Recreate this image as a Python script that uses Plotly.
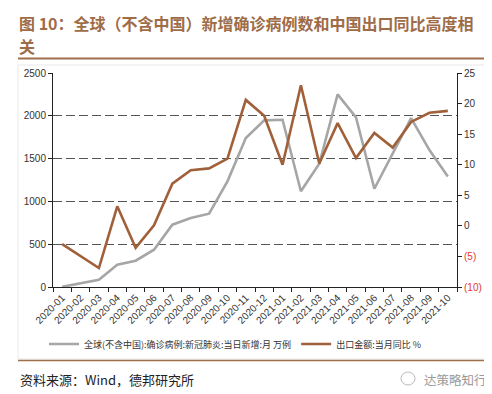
import plotly.graph_objects as go

months = ["2020-01", "2020-02", "2020-03", "2020-04", "2020-05", "2020-06", "2020-07",
          "2020-08", "2020-09", "2020-10", "2020-11", "2020-12", "2021-01", "2021-02",
          "2021-03", "2021-04", "2021-05", "2021-06", "2021-07", "2021-08", "2021-09",
          "2021-10"]
global_cases = [2, 40, 85, 260, 307, 436, 728, 806, 856, 1234, 1740, 1947, 1954, 1118,
                1440, 2250, 1982, 1148, 1561, 1974, 1600, 1290]
export_yoy = [-3.0, None, -6.9, 3.2, -3.6, 0.1, 6.9, 9.1, 9.4, 11.0, 20.6, 18.0, 10.0, 23.0,
              10.2, 16.8, 11.1, 15.2, 12.8, 17.0, 18.5, 18.8]
left_ticks = [0, 500, 1000, 1500, 2000, 2500]
right_ticks = [-10, -5, 0, 5, 10, 15, 20, 25]
right_ticktext = ['<span style="color:#e8392f">(10)</span>', '<span style="color:#e8392f">(5)</span>',
                  "0", "5", "10", "15", "20", "25"]

name_cases = "全球(不含中国):确诊病例:新冠肺炎:当日新增:月 万例"
name_export = "出口金额:当月同比 %"
title_line1 = "图 10：全球（不含中国）新增确诊病例数和中国出口同比高度相"
title_line2 = "关"
source_text = "资料来源：Wind，德邦研究所"
watermark = "达策略知行"

W, H = 492, 394
L, R, T, B = 45, 449, 65, 279


def px(x):
    return (x - L) / (R - L)


def py(y):
    return (B - y) / (B - T)


GRAY = "#a6a6a6"
BROWN = "#a0603a"
TITLE_C = "#9e6c47"

fig = go.Figure()
fig.add_trace(go.Scatter(x=months, y=global_cases, name=name_cases, mode="lines",
                         line=dict(color=GRAY, width=2.6), yaxis="y"))
fig.add_trace(go.Scatter(x=months, y=export_yoy, name=name_export, mode="lines",
                         line=dict(color=BROWN, width=2.6), yaxis="y2", connectgaps=True))

fig.update_layout(
    width=W, height=H,
    margin=dict(l=L, r=W - R, t=T, b=H - B),
    paper_bgcolor="white", plot_bgcolor="white",
    font=dict(family="Liberation Sans, Arial, sans-serif", size=10, color="#333"),
    showlegend=True,
    legend=dict(orientation="h", x=px(36), xanchor="left", y=py(336), yanchor="middle",
                font=dict(family="Noto Sans CJK SC", size=9, color="#333"),
                itemwidth=30, tracegroupgap=0, bgcolor="rgba(0,0,0,0)",
                entrywidthmode="pixels"),
    xaxis=dict(type="category", tickangle=-45, tickson="boundaries", ticks="outside",
               ticklen=4, tickcolor="#222", showline=True, linecolor="#222", linewidth=1,
               showgrid=False, tickfont=dict(size=10, color="#333"), range=[-0.5, 21.5]),
    yaxis=dict(range=[0, 2500], tickvals=left_ticks, showline=True, linecolor="#222",
               linewidth=1, ticks="outside", ticklen=4, tickcolor="#222",
               showgrid=True, gridcolor="#555", griddash="9px,4px", gridwidth=1,
               zeroline=False, tickfont=dict(size=10, color="#333")),
    yaxis2=dict(range=[-10, 25], tickvals=right_ticks, ticktext=right_ticktext,
                overlaying="y", side="right", showline=True, linecolor="#222",
                linewidth=1, ticks="outside", ticklen=4, tickcolor="#222",
                showgrid=False, zeroline=False, tickfont=dict(size=10, color="#333")),
)

shapes = [
    dict(type="rect", xref="paper", yref="paper", x0=px(10), x1=px(485), y0=py(351), y1=py(57),
         line=dict(color="#e8e8e8", width=1), layer="below"),
    dict(type="line", xref="paper", yref="paper", x0=px(10), x1=px(486), y0=py(50.5), y1=py(50.5),
         line=dict(color="#a0704c", width=2)),
    dict(type="line", xref="paper", yref="paper", x0=px(10), x1=px(486), y0=py(352.5), y1=py(352.5),
         line=dict(color="#a0704c", width=1.5)),
    dict(type="circle", xref="paper", yref="paper", x0=px(393), x1=px(407), y0=py(377), y1=py(364),
         line=dict(color="#bbbbbb", width=1)),
]
fig.update_layout(shapes=shapes)

annotations = [
    dict(text=title_line1, x=px(9), y=py(15), xanchor="left", yanchor="middle",
         font=dict(family="Noto Sans CJK SC", size=16, color=TITLE_C, weight="bold")),
    dict(text=title_line2, x=px(9), y=py(38), xanchor="left", yanchor="middle",
         font=dict(family="Noto Sans CJK SC", size=16, color=TITLE_C, weight="bold")),
    dict(text=source_text, x=px(10), y=py(371), xanchor="left", yanchor="middle",
         font=dict(family="Noto Sans CJK SC", size=13, color="#222")),
    dict(text=watermark, x=px(414), y=py(371), xanchor="left", yanchor="middle",
         font=dict(family="Noto Sans CJK SC", size=12.5, color="#999")),
]
for a in annotations:
    a.update(xref="paper", yref="paper", showarrow=False)
fig.update_layout(annotations=annotations)

fig.write_html("out.html")
